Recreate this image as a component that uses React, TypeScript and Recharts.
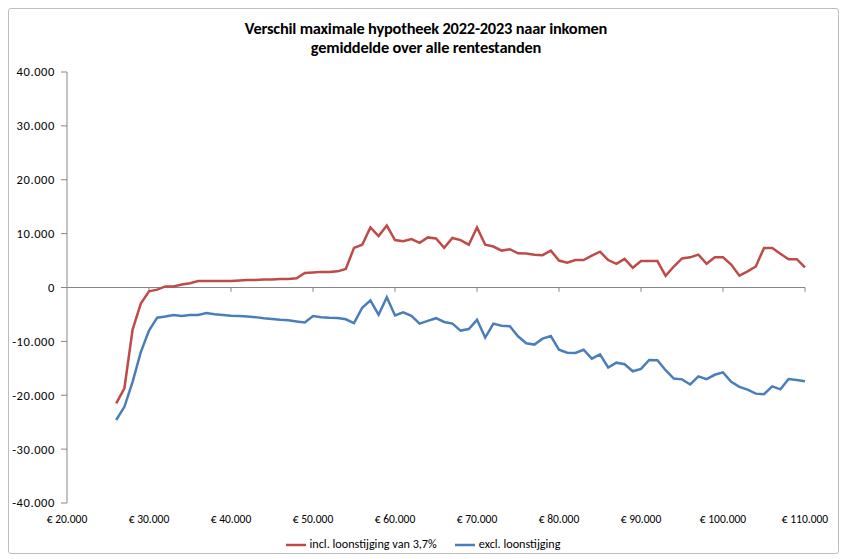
import { Legend, Line, LineChart, ReferenceLine, XAxis, YAxis } from 'recharts';

// inkomen in duizenden euro's
const incomes = [
    26, 27, 28, 29, 30, 31, 32, 33, 34, 35, 36, 37, 38, 39, 40, 41, 42, 43, 44, 45,
    46, 47, 48, 49, 50, 51, 52, 53, 54, 55, 56, 57, 58, 59, 60, 61, 62, 63, 64, 65,
    66, 67, 68, 69, 70, 71, 72, 73, 74, 75, 76, 77, 78, 79, 80, 81, 82, 83, 84, 85,
    86, 87, 88, 89, 90, 91, 92, 93, 94, 95, 96, 97, 98, 99, 100, 101, 102, 103, 104, 105,
    106, 107, 108, 109, 110
];

const inclLoonstijging = [
    -21500, -18700, -7800, -3000, -700, -400, 200, 200, 550, 800,
    1200, 1200, 1200, 1200, 1200, 1300, 1400, 1400, 1500, 1500,
    1600, 1600, 1700, 2700, 2800, 2900, 2900, 3000, 3450, 7350,
    7950, 11150, 9550, 11500, 8800, 8600, 9000, 8300, 9300, 9100,
    7350, 9200, 8800, 7950, 11150, 7950, 7600, 6850, 7100, 6350,
    6300, 6100, 6000, 6850, 5000, 4600, 5100, 5100, 5900, 6650,
    5100, 4400, 5300, 3650, 4900, 4900, 4900, 2150, 3900, 5400,
    5600, 6100, 4400, 5600, 5600, 4250, 2200, 3000, 3900, 7350,
    7350, 6250, 5250, 5250, 3750
];

const exclLoonstijging = [
    -24600, -22150, -17500, -12000, -8000, -5600, -5400, -5100, -5300, -5100,
    -5100, -4750, -4950, -5100, -5250, -5300, -5400, -5500, -5700, -5850,
    -6000, -6100, -6300, -6500, -5300, -5500, -5600, -5650, -5900, -6600,
    -3750, -2400, -5050, -1800, -5200, -4600, -5250, -6700, -6200, -5700,
    -6400, -6700, -8000, -7700, -6000, -9300, -6700, -7100, -7200, -9050,
    -10350, -10600, -9500, -9000, -11550, -12100, -12150, -11550, -13200, -12400,
    -14850, -13950, -14250, -15550, -15100, -13450, -13500, -15350, -16900, -17050,
    -18000, -16500, -17000, -16200, -15750, -17500, -18450, -18950, -19700, -19800,
    -18350, -18900, -17000, -17150, -17400
];

const xTicks = [20000, 30000, 40000, 50000, 60000, 70000, 80000, 90000, 100000, 110000];
const yTicks = [-40000, -30000, -20000, -10000, 0, 10000, 20000, 30000, 40000];
const seriesOrder = ['incl', 'excl'];

const data = incomes.map((inc, i) => ({
    income: inc * 1000,
    incl: inclLoonstijging[i],
    excl: exclLoonstijging[i],
}));

const font = "Carlito, Calibri, Lato, 'Open Sans', sans-serif";
const axisGrey = '#868686';

const dots = (n: number): string => {
    const s = Math.abs(n).toString().replace(/\B(?=(\d{3})+(?!\d))/g, '.');
    return (n < 0 ? '-' : '') + s;
};

export default function App() {
    return (
        <div style={{ position: 'absolute', left: 0, top: 0, width: 844, height: 559, background: '#fff' }}>
            <div style={{
                position: 'absolute', left: 8, top: 8, width: 829, height: 544,
                border: '1px solid #bdbdbd', borderRadius: 3
            }} />
            <div style={{
                position: 'absolute', left: 0, top: 19, width: 852, textAlign: 'center',
                fontFamily: font, fontWeight: 'bold', fontSize: 16.4, lineHeight: '19px', color: '#000',
                letterSpacing: -0.2
            }}>
                Verschil maximale hypotheek 2022-2023 naar inkomen<br />
                gemiddelde over alle rentestanden
            </div>
            <LineChart
                width={844}
                height={559}
                data={data}
                margin={{ top: 72, right: 39, bottom: 3, left: 0 }}
            >
                <XAxis
                    dataKey="income"
                    type="number"
                    domain={[20000, 110000]}
                    ticks={xTicks}
                    tickFormatter={(v: number) => '€ ' + dots(v)}
                    axisLine={false}
                    tickLine={false}
                    tickMargin={6}
                    height={32}
                    interval={0}
                    tick={{ fill: '#000', fontSize: 11.5, fontFamily: font }}
                />
                <YAxis
                    type="number"
                    domain={[-40000, 40000]}
                    ticks={yTicks}
                    tickFormatter={dots}
                    width={67}
                    interval={0}
                    axisLine={{ stroke: axisGrey }}
                    tickLine={{ stroke: axisGrey }}
                    tickSize={6}
                    tickMargin={6}
                    tick={{ fill: '#000', fontSize: 12.5, fontFamily: font, letterSpacing: 0.6 }}
                />
                <ReferenceLine y={0} stroke={axisGrey} />
                {xTicks.slice(1).map(t => (
                    <ReferenceLine
                        key={t}
                        segment={[{ x: t, y: 0 }, { x: t, y: -800 }]}
                        stroke={axisGrey}
                    />
                ))}
                <Legend
                    verticalAlign="bottom"
                    height={21}
                    iconType="plainline"
                    iconSize={20}
                    itemSorter={(item: any) => seriesOrder.indexOf(item.dataKey)}
                    wrapperStyle={{ fontFamily: font, fontSize: 12.2, color: '#000', left: 10, width: 844 }}
                    formatter={(value: string) => (
                        <span style={{ color: '#000', marginRight: 8 }}>{value}</span>
                    )}
                />
                <Line
                    dataKey="incl"
                    name="incl. loonstijging van 3,7%"
                    stroke="#BE4B48"
                    strokeWidth={2.5}
                    dot={false}
                    isAnimationActive={false}
                />
                <Line
                    dataKey="excl"
                    name="excl. loonstijging"
                    stroke="#4A7EBB"
                    strokeWidth={2.5}
                    dot={false}
                    isAnimationActive={false}
                />
            </LineChart>
        </div>
    );
}
